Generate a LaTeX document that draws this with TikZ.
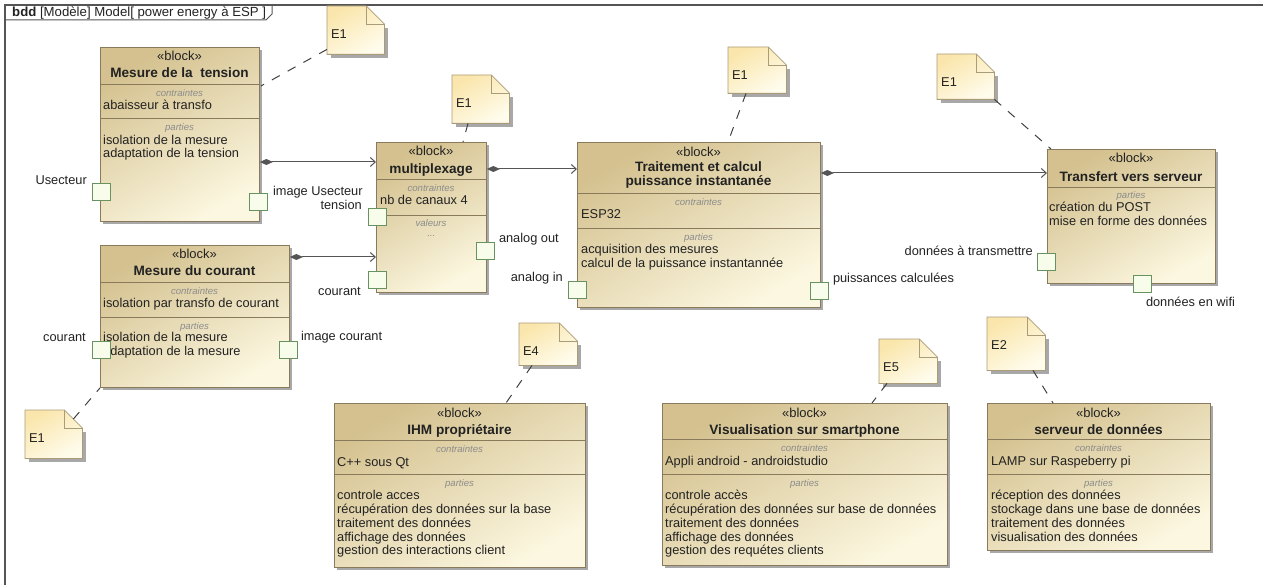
\documentclass[tikz,border=0pt]{standalone}
\usepackage{fontspec}
\setmainfont{Liberation Sans}
\usepackage{tikz}
\usetikzlibrary{positioning,calc,shadows,arrows.meta}
\definecolor{blkdark}{RGB}{212,193,143}
\definecolor{blklight}{RGB}{252,247,224}
\definecolor{blkline}{RGB}{138,122,92}
\definecolor{shadowgray}{RGB}{168,168,168}
\definecolor{portfill}{RGB}{248,252,234}
\definecolor{portline}{RGB}{104,146,96}
\definecolor{notedark}{RGB}{250,230,172}
\definecolor{notelight}{RGB}{255,252,236}
\definecolor{noteline}{RGB}{170,156,120}
\definecolor{conline}{RGB}{85,85,85}
\definecolor{lblgray}{RGB}{140,140,140}
\definecolor{txtcol}{RGB}{34,34,34}
\newcommand{\firstln}{\rule{0pt}{10pt}}
\newcommand{\bodyfont}{\fontsize{12.8}{13.8}\selectfont}
\tikzset{block/.style={draw=blkline,line width=0.9pt,top color=blkdark,bottom color=blklight,shading angle=30,drop shadow={shadow xshift=3pt,shadow yshift=-3pt,fill=shadowgray,opacity=1},anchor=north west,inner sep=0pt}}
\tikzset{sepline/.style={blkline,line width=0.8pt}}
\tikzset{stereo/.style={font=\fontsize{13}{14}\selectfont,text=txtcol,anchor=base,inner sep=0pt}}
\tikzset{blktitle/.style={font=\fontsize{13.6}{14}\selectfont\bfseries,text=txtcol,anchor=base,inner sep=0pt}}
\tikzset{compart/.style={font=\fontsize{9.6}{10}\selectfont\itshape,text=lblgray,anchor=base,inner sep=0pt}}
\tikzset{lines/.style={font=\bodyfont,text=txtcol,align=left,anchor=north west,inner sep=0pt}}
\tikzset{port/.style={draw=portline,fill=portfill,line width=0.8pt,minimum width=18pt,minimum height=17pt,anchor=north west,inner sep=0pt}}
\tikzset{plbl/.style={font=\bodyfont,text=txtcol,inner sep=0pt}}
\tikzset{note/.style={minimum width=57pt,minimum height=48pt,anchor=north west,inner sep=0pt}}
\tikzset{notetxt/.style={font=\bodyfont,text=txtcol,anchor=west,inner sep=0pt}}
\tikzset{compo/.style={conline,line width=1pt,{Diamond[length=13pt,width=6pt]}-{Straight Barb[length=5pt,width=9pt]}}}
\tikzset{anchorline/.style={draw=black!75,line width=1pt,dash pattern=on 9pt off 9pt}}
% folded note drawn on an empty node
\newcommand{\drawnote}[2]{%
  \fill[shadowgray] ($(#1.north west)+(4,22)$) rectangle ($(#1.south east)+(4,4)$);
  \path[draw=noteline,line width=0.8pt,top color=notedark,bottom color=notelight,shading angle=30]
    (#1.north west) -- ($(#1.north east)+(-18,0)$) -- ($(#1.north east)+(0,18)$)
    -- (#1.south east) -- (#1.south west) -- cycle;
  \draw[noteline,line width=0.8pt] ($(#1.north east)+(-18,0)$) |- ($(#1.north east)+(0,18)$);
  \node[notetxt] (#1-t) at ($(#1.north west)+(4,28)$) {#2};
}

\begin{document}
\begin{tikzpicture}[x=1pt,y=-1pt]
  \useasboundingbox (0,0) rectangle (1263,585);
  % frame
  \draw[conline,line width=1.2pt] (5,585) -- (5,5) -- (1263,5);
  \draw[conline,line width=1pt] (5,20) -- (266,20) -- (272,14) -- (272,5);
  \node[plbl,font=\fontsize{13.2}{14}\selectfont,anchor=base west] (frame-t) at (12,17) {\textbf{bdd} [Modèle] Model[ power energy à ESP ]};

  % blocks
  \node[block,minimum width=159,minimum height=174] (tension) at (100,47) {};
  \node[block,minimum width=189,minimum height=142] (courant) at (100,245) {};
  \node[block,minimum width=110,minimum height=150] (mux) at (376,142) {};
  \node[block,minimum width=243,minimum height=165] (trait) at (577,142) {};
  \node[block,minimum width=168,minimum height=134] (transf) at (1047,149) {};
  \node[block,minimum width=251,minimum height=164] (ihm) at (334,403) {};
  \node[block,minimum width=285,minimum height=162] (visu) at (662,403) {};
  \node[block,minimum width=223,minimum height=147] (serv) at (987,403) {};

  % Mesure de la tension
  \node[stereo] (tension-st) at (179.5,61) {«block»};
  \node[blktitle] (tension-ti) at (179.5,78) {Mesure de la~ tension};
  \draw[sepline] (tension.west |- 0,84) -- (tension.east |- 0,84);
  \node[compart] (tension-c) at (179.5,96.5) {contraintes};
  \node[lines] (tension-cl) at (103,99.5) {\firstln abaisseur à transfo};
  \draw[sepline] (tension.west |- 0,118) -- (tension.east |- 0,118);
  \node[compart] (tension-p) at (179.5,130.5) {parties};
  \node[lines] (tension-pl) at (103,134) {\firstln isolation de la mesure\\adaptation de la tension};

  % Mesure du courant
  \node[stereo] (courant-st) at (194.5,259) {«block»};
  \node[blktitle] (courant-ti) at (194.5,276) {Mesure du courant};
  \draw[sepline] (courant.west |- 0,282) -- (courant.east |- 0,282);
  \node[compart] (courant-c) at (194.5,294.5) {contraintes};
  \node[lines] (courant-cl) at (103,297.5) {\firstln isolation par transfo de courant};
  \draw[sepline] (courant.west |- 0,317) -- (courant.east |- 0,317);
  \node[compart] (courant-p) at (194.5,329.5) {parties};
  \node[lines] (courant-pl) at (103,331.5) {\firstln isolation de la mesure\\adaptation de la mesure};

  % multiplexage
  \node[stereo] (mux-st) at (431,156) {«block»};
  \node[blktitle] (mux-ti) at (431,173.5) {multiplexage};
  \draw[sepline] (mux.west |- 0,179) -- (mux.east |- 0,179);
  \node[compart] (mux-c) at (431,191.5) {contraintes};
  \node[lines] (mux-cl) at (380,194.5) {\firstln nb de canaux 4};
  \draw[sepline] (mux.west |- 0,215) -- (mux.east |- 0,215);
  \node[compart] (mux-v) at (431,226.5) {valeurs};
  \node[compart,font=\fontsize{9.6}{10}\selectfont] (mux-vl) at (431,237) {...};

  % Traitement et calcul
  \node[stereo] (trait-st) at (698.5,157) {«block»};
  \node[blktitle] (trait-ti) at (698.5,172) {Traitement et calcul};
  \node[blktitle] (trait-ti2) at (698.5,186) {puissance instantanée};
  \draw[sepline] (trait.west |- 0,193) -- (trait.east |- 0,193);
  \node[compart] (trait-c) at (698.5,205.5) {contraintes};
  \node[lines] (trait-cl) at (581,208.5) {\firstln ESP32};
  \draw[sepline] (trait.west |- 0,228) -- (trait.east |- 0,228);
  \node[compart] (trait-p) at (698.5,240.5) {parties};
  \node[lines] (trait-pl) at (581,243.5) {\firstln acquisition des mesures\\calcul de la puissance instantannée};

  % Transfert vers serveur
  \node[stereo] (transf-st) at (1131,163) {«block»};
  \node[blktitle] (transf-ti) at (1131,181.5) {Transfert vers serveur};
  \draw[sepline] (transf.west |- 0,187) -- (transf.east |- 0,187);
  \node[compart] (transf-p) at (1131,199) {parties};
  \node[lines] (transf-pl) at (1049,201.5) {\firstln création du POST\\mise en forme des données};

  % IHM proprietaire
  \node[stereo] (ihm-st) at (459.5,417) {«block»};
  \node[blktitle] (ihm-ti) at (459.5,434.5) {IHM propriétaire};
  \draw[sepline] (ihm.west |- 0,440) -- (ihm.east |- 0,440);
  \node[compart] (ihm-c) at (459.5,452.5) {contraintes};
  \node[lines] (ihm-cl) at (337,456.5) {\firstln C++ sous Qt};
  \draw[sepline] (ihm.west |- 0,474) -- (ihm.east |- 0,474);
  \node[compart] (ihm-p) at (459.5,486.5) {parties};
  \node[lines] (ihm-pl) at (337,489.5) {\firstln controle acces\\récupération des données sur la base\\traitement des données\\affichage des données\\gestion des interactions client};

  % Visualisation sur smartphone
  \node[stereo] (visu-st) at (804.5,417) {«block»};
  \node[blktitle] (visu-ti) at (804.5,434.5) {Visualisation sur smartphone};
  \draw[sepline] (visu.west |- 0,439) -- (visu.east |- 0,439);
  \node[compart] (visu-c) at (804.5,451.5) {contraintes};
  \node[lines] (visu-cl) at (665,455.5) {\firstln Appli android - androidstudio};
  \draw[sepline] (visu.west |- 0,474) -- (visu.east |- 0,474);
  \node[compart] (visu-p) at (804.5,486.5) {parties};
  \node[lines] (visu-pl) at (665,489.5) {\firstln controle accès\\récupération des données sur base de données\\traitement des données\\affichage des données\\gestion des requétes clients};

  % serveur de donnees
  \node[stereo] (serv-st) at (1098.5,417) {«block»};
  \node[blktitle] (serv-ti) at (1098.5,434.5) {serveur de données};
  \draw[sepline] (serv.west |- 0,439) -- (serv.east |- 0,439);
  \node[compart] (serv-c) at (1098.5,451.5) {contraintes};
  \node[lines] (serv-cl) at (991,455.5) {\firstln LAMP sur Raspeberry pi};
  \draw[sepline] (serv.west |- 0,474) -- (serv.east |- 0,474);
  \node[compart] (serv-p) at (1098.5,486.5) {parties};
  \node[lines] (serv-pl) at (991,489.5) {\firstln réception des données\\stockage dans une base de données\\traitement des données\\visualisation des données};

  % ports
  \node[port] (us-in) at (92,183) {};
  \node[plbl,left=5pt of us-in.north west,yshift=3pt] (us-in-l) {Usecteur};
  \node[port] (us-out) at (249,193) {};
  \node[plbl,right=5pt of us-out.north east,yshift=1pt,anchor=west] (us-out-l) {image Usecteur};
  \node[port] (cour-in) at (92,341) {};
  \node[plbl,left=6pt of cour-in.north west,yshift=4pt] (cour-in-l) {courant};
  \node[port] (cour-out) at (279,341) {};
  \node[plbl,right=3pt of cour-out.north east,yshift=4pt] (cour-out-l) {image courant};
  \node[port] (mux-ten) at (368,208) {};
  \node[plbl,left=6pt of mux-ten.north west,yshift=3pt] (mux-ten-l) {tension};
  \node[port] (mux-cour) at (368,271) {};
  \node[plbl,left=7pt of mux-cour.south west,yshift=-3pt] (mux-cour-l) {courant};
  \node[port] (mux-out) at (476,242) {};
  \node[plbl,right=4pt of mux-out.north east,yshift=3pt] (mux-out-l) {analog out};
  \node[port] (trait-in) at (568,281) {};
  \node[plbl,left=5pt of trait-in.north west,yshift=3pt] (trait-in-l) {analog in};
  \node[port] (trait-out) at (810,282) {};
  \node[plbl,right=4pt of trait-out.north east,yshift=3pt] (trait-out-l) {puissances calculées};
  \node[port] (transf-in) at (1037,253) {};
  \node[plbl,left=4pt of transf-in.north west,yshift=2pt] (transf-in-l) {données à transmettre};
  \node[port] (transf-out) at (1133,275) {};
  \node[plbl,below right=4pt and -6pt of transf-out.south east] (transf-out-l) {données en wifi};

  % compositions
  \draw[compo] (tension.east |- 0,162) -- (mux.west |- 0,162);
  \draw[compo] (courant.east |- 0,257) -- (mux.west |- 0,257);
  \draw[compo] (mux.east |- 0,169) -- (trait.west |- 0,169);
  \draw[compo] (trait.east |- 0,173) -- (transf.west |- 0,173);

  % notes
  \node[note] (n1) at (327,6) {};
  \node[note] (n2) at (452,75) {};
  \node[note,minimum width=58,minimum height=46] (n3) at (728,47) {};
  \node[note,minimum height=45] (n4) at (937,54) {};
  \node[note] (n5) at (25,410) {};
  \node[note,minimum width=58,minimum height=42] (n6) at (519,323) {};
  \node[note,minimum width=58,minimum height=44] (n7) at (879,339) {};
  \node[note,minimum width=58,minimum height=53] (n8) at (987,317) {};
  \drawnote{n1}{E1}
  \drawnote{n2}{E1}
  \drawnote{n3}{E1}
  \drawnote{n4}{E1}
  \drawnote{n5}{E1}
  \drawnote{n6}{E4}
  \drawnote{n7}{E5}
  \drawnote{n8}{E2}
  \draw[anchorline] ($(n1.south west)+(0,-5)$) -- ($(tension.north east)+(1,39)$);
  \draw[anchorline] ($(n2.south west)+(16,0)$) -- ($(mux.north west)+(87,0)$);
  \draw[anchorline] ($(n3.south west)+(18,0)$) -- ($(trait.north west)+(151,0)$);
  \draw[anchorline] (n4.south east) -- ($(transf.north west)+(4,0)$);
  \draw[anchorline] ($(n5.north east)+(-9,9)$) -- (courant.south west);
  \draw[anchorline] ($(n6.south west)+(13,0)$) -- ($(ihm.north west)+(172,0)$);
  \draw[anchorline] ($(n7.south west)+(8,0)$) -- ($(visu.north west)+(210,0)$);
  \draw[anchorline] ($(n8.south west)+(46,0)$) -- ($(serv.north west)+(66,0)$);
\end{tikzpicture}
\end{document}
